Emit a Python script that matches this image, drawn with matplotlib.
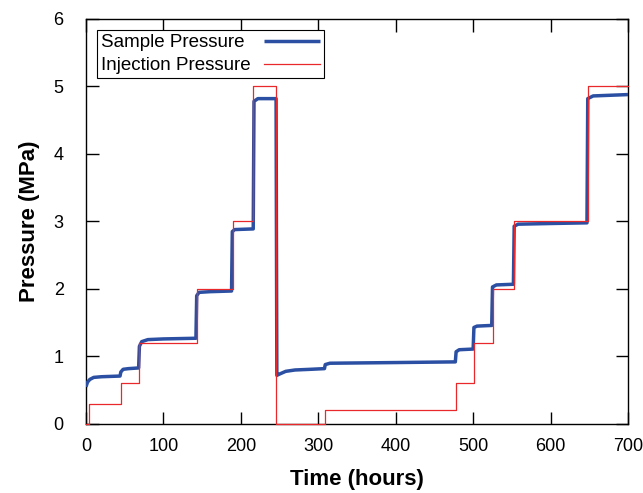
import matplotlib
matplotlib.use("Agg")
import matplotlib.pyplot as plt

plt.rcParams['font.family'] = ['Liberation Sans', 'DejaVu Sans']

# Sample pressure (MPa) vs time (hours)
sample_t = [0, 2, 5, 10, 20, 44, 45, 48, 55, 68, 69, 72, 80, 100, 142, 143, 146, 160, 188,
            189, 192, 216, 217, 222, 245.5, 246.5, 250, 258, 270, 290, 308, 309, 315, 400,
            477, 478, 482, 500, 501, 505, 524, 525, 530, 552, 553, 558, 600, 647, 648, 655, 700]
sample_p = [0.55, 0.62, 0.66, 0.69, 0.70, 0.71, 0.77, 0.81, 0.82, 0.83, 1.15, 1.22, 1.25, 1.26, 1.27,
            1.90, 1.95, 1.96, 1.97, 2.85, 2.88, 2.89, 4.78, 4.82, 4.82, 0.72, 0.74, 0.78, 0.80,
            0.81, 0.82, 0.88, 0.90, 0.91, 0.92, 1.07, 1.10, 1.11, 1.43, 1.45, 1.46, 2.03, 2.06,
            2.07, 2.93, 2.96, 2.97, 2.98, 4.82, 4.86, 4.88]

# Injection pressure (step changes)
inj_t = [0, 4, 45, 68.5, 143, 190, 216, 245.5, 309, 478, 501, 525, 553, 648, 700]
inj_p = [0, 0.3, 0.6, 1.2, 2.0, 3.0, 5.0, 0, 0.2, 0.6, 1.2, 2.0, 3.0, 5.0, 5.0]

fig = plt.figure(figsize=(6.43, 4.93), dpi=100)
ax = fig.add_axes([0.1337, 0.140, 0.843, 0.8215])

ax.plot(sample_t, sample_p, color='#2b4fa2', lw=2.5, label='Sample Pressure',
        solid_capstyle='butt', zorder=3)
ax.plot(inj_t, inj_p, color='#e8282a', lw=0.9, drawstyle='steps-post',
        label='Injection Pressure', zorder=4, clip_on=False)

ax.set_xlim(0, 700)
ax.set_ylim(0, 6)
ax.set_xticks(range(0, 701, 100))
ax.set_yticks(range(0, 7))
ax.tick_params(direction='in', length=9, width=1, top=True, right=True,
               labelsize=13)
ax.tick_params(axis='x', pad=10)
ax.tick_params(axis='y', pad=16)
for s in ax.spines.values():
    s.set_linewidth(1.0)

ax.set_xlabel('Time (hours)', fontsize=16, fontweight='bold', labelpad=10)
ax.set_ylabel('Pressure (MPa)', fontsize=16, fontweight='bold', labelpad=10)

leg = ax.legend(loc='upper left', fontsize=13.5, frameon=True, fancybox=False,
                edgecolor='black', framealpha=1, handlelength=3.0,
                handletextpad=0.7, markerfirst=False,
                borderaxespad=0.6, borderpad=0.22, labelspacing=0.3)
leg.get_frame().set_linewidth(0.8)

# left-align legend texts while keeping the handles aligned
fig.canvas.draw()
renderer = fig.canvas.get_renderer()
texts = leg.get_texts()
widths = [t.get_window_extent(renderer).width for t in texts]
col = leg._legend_handle_box.get_children()[0]
col.align = 'left'
for row, w in zip(col.get_children(), widths):
    row.sep = row.sep + (max(widths) - w) * 72.0 / fig.dpi

fig.savefig('out.png', dpi=100)
